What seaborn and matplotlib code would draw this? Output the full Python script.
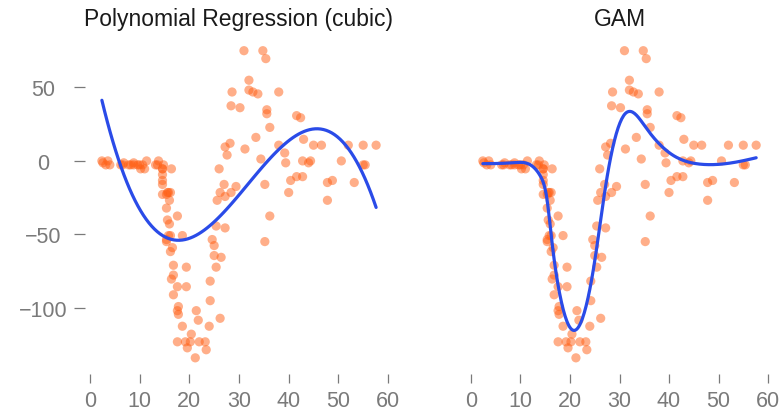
import matplotlib
matplotlib.use("Agg")
import matplotlib.pyplot as plt
import numpy as np
import pandas as pd
import seaborn as sns

# mcycle data: time after impact (ms) and head acceleration (g)
times = [
    2.4, 2.6, 3.2, 3.6, 4.0, 6.2, 6.6, 6.8, 7.8, 8.2, 8.8, 8.8, 9.6, 10.0, 10.2,
    10.6, 11.0, 11.4, 13.2, 13.6, 13.8, 14.6, 14.6, 14.6, 14.6, 14.6, 14.6, 14.8,
    15.4, 15.4, 15.4, 15.4, 15.6, 15.6, 15.8, 15.8, 16.0, 16.0, 16.2, 16.2, 16.2,
    16.4, 16.4, 16.6, 16.8, 16.8, 16.8, 17.6, 17.6, 17.6, 17.6, 17.8, 17.8, 18.6,
    18.6, 19.2, 19.4, 19.4, 19.6, 20.2, 20.4, 21.2, 21.4, 21.8, 22.0, 23.2, 23.4,
    24.0, 24.2, 24.2, 24.6, 25.0, 25.0, 25.4, 25.4, 25.6, 26.0, 26.2, 26.2, 26.4,
    27.0, 27.2, 27.2, 27.2, 27.6, 28.2, 28.4, 28.4, 28.6, 29.4, 30.2, 31.0, 31.2,
    32.0, 32.0, 32.8, 33.4, 33.8, 34.4, 34.8, 35.2, 35.2, 35.4, 35.6, 35.6, 36.2,
    36.2, 38.0, 38.0, 39.2, 39.4, 40.0, 40.4, 41.6, 41.6, 42.4, 42.8, 42.8, 43.0,
    44.0, 44.4, 45.0, 46.6, 47.8, 47.8, 48.8, 50.6, 52.0, 53.2, 55.0, 55.0, 55.4,
    57.6,
]
accel = [
    0.0, -1.3, -2.7, 0.0, -2.7, -2.7, -2.7, -1.3, -2.7, -2.7, -1.3, -2.7, -2.7,
    -2.7, -5.4, -2.7, -5.4, 0.0, -2.7, -2.7, 0.0, -13.3, -5.4, -5.4, -9.3, -16.0,
    -22.8, -2.7, -22.8, -32.1, -53.5, -54.9, -40.2, -21.5, -21.5, -50.8, -42.9,
    -26.8, -21.5, -50.8, -61.7, -5.4, -80.4, -59.0, -71.0, -91.1, -77.7, -37.5,
    -85.6, -123.1, -101.9, -99.1, -104.4, -112.5, -50.8, -123.1, -85.6, -72.3,
    -127.2, -123.1, -117.9, -134.0, -101.9, -108.4, -123.1, -123.1, -128.5,
    -112.5, -95.1, -81.8, -53.5, -64.4, -57.6, -72.3, -44.3, -26.8, -5.4, -107.1,
    -21.5, -65.6, -16.0, -45.6, -24.2, 9.5, 4.0, 12.0, -21.5, 37.5, 46.9, -17.4,
    36.2, 75.0, 8.1, 54.9, 48.2, 46.9, 16.0, 45.6, 1.3, 75.0, -16.0, -54.9, 69.6,
    34.8, 32.1, -37.5, 22.8, 46.9, 10.7, 5.4, -1.3, -21.5, -13.3, 30.8, -10.7,
    29.4, 0.0, -10.7, 14.7, -1.3, 0.0, 10.7, 10.7, -26.8, -14.7, -13.3, 0.0, 10.7,
    -14.7, -2.7, 10.7, -2.7, 10.7,
]
x_ticks = [0, 10, 20, 30, 40, 50, 60]
y_ticks = [-100, -50, 0, 50]
titles = ["Polynomial Regression (cubic)", "GAM"]

POINT_COLOR = "#ff5f14"
LINE_COLOR = "#2a4be8"
TICK_COLOR = "#7a7a7a"


def bspline_basis(x, knots, deg=3):
    """B-spline basis for an arbitrary (extended) knot vector, Cox-de Boor."""
    t = np.asarray(knots, float)
    xx = np.clip(np.asarray(x, float), t[deg], t[-deg - 1] - 1e-9)[:, None]
    B = ((xx >= t[None, :-1]) & (xx < t[None, 1:])).astype(float)
    for k in range(1, deg + 1):
        d1 = t[k:-1] - t[:-k - 1]
        d2 = t[k + 1:] - t[1:-k]
        left = np.where(d1 > 0, (xx - t[None, :-k - 1]) / np.where(d1 > 0, d1, 1), 0)
        right = np.where(d2 > 0, (t[None, k + 1:] - xx) / np.where(d2 > 0, d2, 1), 0)
        B = left * B[:, :-1] + right * B[:, 1:]
    return B


def gam_fit(x, y, n_knots=14, deg=3):
    """Penalized regression spline with knots at quantiles, lambda by GCV."""
    x = np.asarray(x, float)
    y = np.asarray(y, float)
    inner = np.quantile(x, np.linspace(0, 1, n_knots))
    h0, h1 = inner[1] - inner[0], inner[-1] - inner[-2]
    knots = np.concatenate([inner[0] - h0 * np.arange(deg, 0, -1),
                            inner,
                            inner[-1] + h1 * np.arange(1, deg + 1)])
    X = bspline_basis(x, knots, deg)
    nb = X.shape[1]
    D = np.diff(np.eye(nb), 2, axis=0)
    P = D.T @ D
    best = None
    for lm in 10.0 ** np.linspace(-4, 4, 80):
        Hm = X @ np.linalg.solve(X.T @ X + lm * P, X.T)
        resid = y - Hm @ y
        gcv = len(y) * (resid @ resid) / (len(y) - np.trace(Hm)) ** 2
        if best is None or gcv < best[0]:
            best = (gcv, lm)
    beta = np.linalg.solve(X.T @ X + best[1] * P, X.T @ y)
    grid = np.linspace(x.min(), x.max(), 300)
    return grid, bspline_basis(grid, knots, deg) @ beta


def style_axis(ax, show_y):
    sns.despine(ax=ax, left=True, bottom=True, offset=3)
    ax.set_xlim(-1, 61)
    ax.set_ylim(-145, 85)
    ax.set_xticks(x_ticks)
    ax.set_yticks(y_ticks)
    ax.set_xlabel("")
    ax.set_ylabel("")
    ax.tick_params(axis="x", bottom=True, direction="out", length=6.5, width=0.9,
                   color=TICK_COLOR, labelcolor=TICK_COLOR, labelsize=15.5, pad=5)
    if show_y:
        ax.set_yticklabels([str(t).replace("-", "\u2212") for t in y_ticks])
        ax.tick_params(axis="y", left=True, direction="out", length=8, width=0.9,
                       color=TICK_COLOR, labelcolor=TICK_COLOR, labelsize=15.5,
                       pad=22)
        for lab in ax.get_yticklabels():
            lab.set_horizontalalignment("center")
    else:
        ax.tick_params(axis="y", left=False, labelleft=False)


def main() -> None:
    sns.set_theme(style="white")
    plt.rcParams["font.family"] = ["Liberation Sans", "DejaVu Sans"]

    df = pd.DataFrame({"times": times, "accel": accel})

    fig = plt.figure(figsize=(7.83, 4.14), dpi=100)
    W, H = 783, 414
    ax1 = fig.add_axes([85 / W, 1 - 375 / H, 308 / W, 338 / H])
    ax2 = fig.add_axes([466 / W, 1 - 375 / H, 307 / W, 338 / H])

    for ax in (ax1, ax2):
        sns.scatterplot(data=df, x="times", y="accel", ax=ax, color=POINT_COLOR,
                        alpha=0.5, s=44, edgecolor="none", linewidth=0)

    # cubic polynomial fit
    sns.regplot(data=df, x="times", y="accel", ax=ax1, order=3, ci=None,
                scatter=False, truncate=True,
                line_kws={"color": LINE_COLOR, "linewidth": 2.3})

    # smooth (GAM-like) fit
    gx, gy = gam_fit(df["times"], df["accel"])
    sns.lineplot(x=gx, y=gy, ax=ax2, color=LINE_COLOR, linewidth=2.3)

    style_axis(ax1, True)
    style_axis(ax2, False)

    for ax, title in zip((ax1, ax2), titles):
        ax.set_title(title, fontsize=16.5, color="#1a1a1a", pad=8)

    fig.savefig("out.png", dpi=100)
    plt.close(fig)


if __name__ == "__main__":
    main()
